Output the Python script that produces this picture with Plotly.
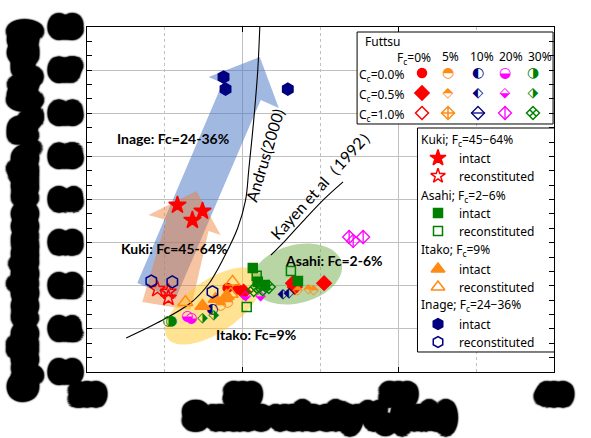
import numpy as np
import plotly.graph_objects as go

# ---------------- data (Vs in m/s, ratio) ----------------
andrus_vs = [125.2, 145.2, 166.5, 178.1, 187.7, 196.8, 201.9, 203.9, 207.1, 209.7, 211.0]
andrus_r = [0.079, 0.114, 0.160, 0.204, 0.264, 0.334, 0.399, 0.468, 0.584, 0.700, 0.800]
kayen_vs = [218.1, 227.7, 240.6, 252.3, 264.5]
kayen_r = [0.271, 0.306, 0.357, 0.401, 0.441]

kuki_int_vs = [158.1, 174.2, 167.7]
kuki_int_r = [0.387, 0.373, 0.352]
kuki_rec_vs = [145.2, 152.3, 152.3]
kuki_rec_r = [0.192, 0.186, 0.172]

asahi_int_vs = [206.5, 209.7, 214.2, 235.5]
asahi_int_r = [0.241, 0.209, 0.202, 0.211]
asahi_rec_vs = [209.0, 231.0, 202.6]
asahi_rec_r = [0.223, 0.234, 0.151]

itako_int_vs = [174.2, 182.6, 189.7]
itako_int_r = [0.153, 0.169, 0.176]
itako_rec_vs = [163.2, 193.5, 192.3]
itako_rec_r = [0.162, 0.209, 0.181]

inage_int_vs = [187.7, 189.0, 229.0]
inage_int_r = [0.684, 0.656, 0.656]
inage_rec_vs = [141.3, 154.8, 180.6]
inage_rec_r = [0.211, 0.209, 0.186]

# Futtsu: fines content Fc / cement content Cc
fc0_cc00_vs = [190.3, 196.8, 200.0]
fc0_cc00_r = [0.195, 0.192, 0.188]
fc0_cc05_vs = [200.6, 232.3, 252.3, 233.5]
fc0_cc05_r = [0.186, 0.206, 0.206, 0.197]
fc5_cc00_vs = [185.8, 190.3]
fc5_cc00_r = [0.155, 0.162]
fc5_cc05_vs = [235.5, 242.6, 245.8]
fc5_cc05_r = [0.190, 0.192, 0.188]
fc10_cc00_vs = [180.6]
fc10_cc00_r = [0.146]
fc10_cc05_vs = [225.8, 229.7]
fc10_cc05_r = [0.179, 0.183]
fc20_cc00_vs = [164.5, 167.1]
fc20_cc00_r = [0.128, 0.125]
fc20_cc05_vs = [201.9, 211.6]
fc20_cc05_r = [0.174, 0.174]
fc20_cc10_vs = [268.4, 271.0, 277.4]
fc20_cc10_r = [0.313, 0.304, 0.313]
fc30_cc00_vs = [152.3, 154.2]
fc30_cc00_r = [0.118, 0.118]
fc30_cc05_vs = [174.2, 181.3]
fc30_cc05_r = [0.123, 0.132]
fc30_cc10_vs = [207.1, 212.9, 216.8]
fc30_cc10_r = [0.190, 0.192, 0.197]

x_ticks = [100, 200, 300, 400]
y_ticks = [0.0, 0.1, 0.2, 0.3, 0.4, 0.5, 0.6, 0.7, 0.8]

# ---------------- styles ----------------
RED, ORANGE, NAVY, MAG, GREEN = '#ff0000', '#ff8a14', '#000080', '#ff00ff', '#008000'
fc_cols = [0, 5, 10, 20, 30]
cc_rows = ['0.0', '0.5', '1.0']
fut_style = {
    (0, '0.0'): ('m', 'circle', RED, 9), (0, '0.5'): ('m', 'diamond', RED, 11), (0, '1.0'): ('m', 'diamond-open', RED, 10),
    (5, '0.0'): ('g', '◓', ORANGE, 14), (5, '0.5'): ('g', '⬘', ORANGE, 14), (5, '1.0'): ('m', 'diamond-cross-open', ORANGE, 10),
    (10, '0.0'): ('g', '◐', NAVY, 14), (10, '0.5'): ('g', '⬖', NAVY, 14), (10, '1.0'): ('mm', ('diamond-open', 'line-ew-open'), NAVY, 10),
    (20, '0.0'): ('g', '◒', MAG, 14), (20, '0.5'): ('g', '⬙', MAG, 14), (20, '1.0'): ('mm', ('diamond-open', 'line-ns-open'), MAG, 10),
    (30, '0.0'): ('g', '◑', GREEN, 14), (30, '0.5'): ('g', '⬗', GREEN, 14), (30, '1.0'): ('m', 'diamond-x-open', GREEN, 10),
}
fut_data = {
    (0, '0.0'): (fc0_cc00_vs, fc0_cc00_r), (0, '0.5'): (fc0_cc05_vs, fc0_cc05_r),
    (5, '0.0'): (fc5_cc00_vs, fc5_cc00_r), (5, '0.5'): (fc5_cc05_vs, fc5_cc05_r),
    (10, '0.0'): (fc10_cc00_vs, fc10_cc00_r), (10, '0.5'): (fc10_cc05_vs, fc10_cc05_r),
    (20, '0.0'): (fc20_cc00_vs, fc20_cc00_r), (20, '0.5'): (fc20_cc05_vs, fc20_cc05_r), (20, '1.0'): (fc20_cc10_vs, fc20_cc10_r),
    (30, '0.0'): (fc30_cc00_vs, fc30_cc00_r), (30, '0.5'): (fc30_cc05_vs, fc30_cc05_r), (30, '1.0'): (fc30_cc10_vs, fc30_cc10_r),
}

fig = go.Figure()


def add_styled(x, y, style, xa='x', ya='y'):
    kind, sym, col, size = style
    common = dict(x=x, y=y, showlegend=False, hoverinfo='skip', cliponaxis=False, xaxis=xa, yaxis=ya)
    if kind == 'g':
        fig.add_trace(go.Scatter(mode='text', text=[sym] * len(x), textposition='middle center',
                                 textfont=dict(family='DejaVu Sans', size=size, color=col), **common))
    elif kind == 'm':
        fig.add_trace(go.Scatter(mode='markers', marker=dict(symbol=sym, size=size, color=col,
                                 line=dict(color=col, width=1.5)), **common))
    else:
        for s in sym:
            fig.add_trace(go.Scatter(mode='markers', marker=dict(symbol=s, size=size, color=col,
                                     line=dict(color=col, width=1.3)), **common))


# curves
fig.add_trace(go.Scatter(x=andrus_vs, y=andrus_r, mode='lines', line=dict(color='black', width=1.1, shape='spline'),
                         showlegend=False, hoverinfo='skip'))
fig.add_trace(go.Scatter(x=kayen_vs, y=kayen_r, mode='lines', line=dict(color='black', width=1.1, shape='spline'),
                         showlegend=False, hoverinfo='skip'))

site_sets = [
    (kuki_int_vs, kuki_int_r, ('m', 'star', RED, 13)),
    (kuki_rec_vs, kuki_rec_r, ('m', 'star-open', RED, 12)),
    (asahi_int_vs, asahi_int_r, ('m', 'square', GREEN, 9)),
    (asahi_rec_vs, asahi_rec_r, ('m', 'square-open', GREEN, 9)),
    (itako_int_vs, itako_int_r, ('m', 'triangle-up', ORANGE, 13)),
    (itako_rec_vs, itako_rec_r, ('m', 'triangle-up-open', ORANGE, 13)),
    (inage_int_vs, inage_int_r, ('m', 'hexagon', NAVY, 12)),
    (inage_rec_vs, inage_rec_r, ('m', 'hexagon-open', NAVY, 12)),
]
for key, (xv, yv) in fut_data.items():
    add_styled(xv, yv, fut_style[key])
for xv, yv, st in site_sets:
    add_styled(xv, yv, st)

# ---------------- decorative shapes (data coords) ----------------
KX, KY = 1.55, 431.25  # px per unit on x / y


def poly(pts):
    return 'M ' + ' L '.join(f'{a},{b}' for a, b in pts) + ' Z'


def ellipse(cx, cy, a, b, deg, n=80):
    th = np.radians(deg)
    t = np.linspace(0, 2 * np.pi, n)
    xs = cx + (a * np.cos(t) * np.cos(th) - b * np.sin(t) * np.sin(th)) / KX
    ys = cy + (a * np.cos(t) * np.sin(th) + b * np.sin(t) * np.cos(th)) / KY
    return poly(zip(xs.round(2), ys.round(4)))


blue_arrow = [(132.3, 0.2064), (187.1, 0.6701), (178.1, 0.6841), (211.0, 0.7304), (223.2, 0.6122), (211.6, 0.6307), (156.8, 0.1693)]
orange_arrow = [(135.5, 0.1623), (151.0, 0.3525), (139.4, 0.3641), (170.3, 0.4197), (185.8, 0.3177), (178.1, 0.3270), (166.5, 0.1438)]
shapes = [
    dict(type='path', path=poly(blue_arrow), fillcolor='rgba(68,114,196,0.5)', line=dict(width=0), layer='between'),
    dict(type='path', path=poly(orange_arrow), fillcolor='rgba(237,125,49,0.45)', line=dict(width=0), layer='between'),
    dict(type='path', path=ellipse(181.3, 0.1530, 56, 26, 35), fillcolor='rgba(255,200,40,0.5)', line=dict(width=0), layer='between'),
    dict(type='path', path=ellipse(234.8, 0.2272, 46, 29, 15), fillcolor='rgba(112,173,71,0.5)', line=dict(width=0), layer='between'),
    # legend boxes
    dict(type='rect', x0=273.5, x1=399.4, y0=0.7884, y1=0.5751, fillcolor='white',
         line=dict(color='black', width=1), layer='between'),
    dict(type='rect', x0=312.3, x1=403.5, y0=0.5658, y1=0.0464, fillcolor='white',
         line=dict(color='black', width=1), layer='between'),
]

# ---------------- legends (pixel overlay axes x2/y2) ----------------
P = dict(xref='x2', yref='y2')
LF = dict(family='Noto Sans', size=12, color='black')
ann = []
ann.append(dict(x=363, y=41, text='Futtsu', xanchor='left', yanchor='middle', showarrow=False, font=LF, **P))
col_x = [422, 448, 478, 505, 533]
row_y = [73, 93, 113]
hdr_x = [427, 450, 482, 511, 540]
for i, fc in enumerate(fc_cols):
    if fc == 0:
        ann.append(dict(x=433, y=58, text=f'F<sub>c</sub>={fc}%', xanchor='right', yanchor='middle', showarrow=False, font=LF, **P))
    else:
        ann.append(dict(x=hdr_x[i], y=56, text=f'{fc}%', xanchor='center', yanchor='middle', showarrow=False, font=LF, **P))
for j, cc in enumerate(cc_rows):
    ann.append(dict(x=357, y=row_y[j] + 2, text=f'C<sub>c</sub>={cc}%', xanchor='left', yanchor='middle', showarrow=False, font=LF, **P))
    for i, fc in enumerate(fc_cols):
        add_styled([col_x[i]], [row_y[j]], fut_style[(fc, cc)], 'x2', 'y2')

groups = [('Kuki; F<sub>c</sub>=45−64%', 140), ('Asahi; F<sub>c</sub>=2−6%', 196),
          ('Itako; F<sub>c</sub>=9%', 250), ('Inage; F<sub>c</sub>=24−36%', 305)]
for t, yy in groups:
    ann.append(dict(x=419, y=yy, text=t, xanchor='left', yanchor='middle', showarrow=False, font=LF, **P))
item_y = [158, 176, 213, 231, 269, 287, 324, 342]
leg_sizes = [12, 11, 9, 9, 12, 12, 11, 11]
for k, (xv, yv, st) in enumerate(site_sets):
    add_styled([438], [item_y[k]], (st[0], st[1], st[2], leg_sizes[k]), 'x2', 'y2')
    ann.append(dict(x=457, y=item_y[k], text='intact' if k % 2 == 0 else 'reconstituted', xanchor='left',
                    yanchor='middle', showarrow=False, font=LF, **P))

# region labels
BF = dict(family='Lato', size=14, color='black', weight='bold')
ann += [
    dict(x=173, y=138, text='Inage: Fc=24-36%', showarrow=False, font=BF, **P),
    dict(x=174, y=248, text='Kuki: Fc=45-64%', showarrow=False, font=BF, **P),
    dict(x=334, y=260, text='Asahi: Fc=2-6%', showarrow=False, font=BF, **P),
    dict(x=256, y=334, text='Itako: Fc=9%', showarrow=False, font=BF, **P),
    dict(x=264, y=155, text='Andrus(2000)', textangle=-73, showarrow=False,
         font=dict(family='Lato', size=16, color='black'), **P),
    dict(x=322, y=182, text='Kayen et al（1992）', textangle=-48, showarrow=False,
         font=dict(family='Lato', size=16, color='black'), **P),
]


# blob-like heavy axis text
def blob(rs=(1.5, 3.0, 4.5, 6.0, 7.5), n=24):
    parts = []
    for r in rs:
        for k in range(n):
            a = 2 * np.pi * k / n
            parts.append(f'{r * np.cos(a):.1f}px {r * np.sin(a):.1f}px 1.5px #000')
    return ', '.join(parts)


SH = blob()
AF = dict(family='Liberation Sans', size=23, color='black', weight='bold', shadow=SH)
ann.append(dict(xref='paper', yref='paper', x=0.4989, y=-0.1333, text='S-wave velocity V<sub>s</sub> (m/s)',
                showarrow=False, xanchor='center', yanchor='middle', font=AF))
ann.append(dict(xref='paper', yref='paper', x=-0.132, y=0.4696, textangle=-90,
                text='Cyclic resistance ratio, R<sub>L</sub> (N<sub>c</sub>=20)',
                showarrow=False, xanchor='center', yanchor='middle', font=AF))

TF = dict(family='Liberation Sans', size=16, color='black', weight='bold', shadow=SH)
GRID = '#c0c0c0'
fig.update_layout(
    width=591, height=438, margin=dict(l=87, r=37, t=27, b=66),
    paper_bgcolor='white', plot_bgcolor='white', showlegend=False,
    shapes=shapes, annotations=ann,
    xaxis=dict(range=[100, 400], tickvals=x_ticks, ticktext=[str(v) for v in x_ticks], ticks='inside', ticklen=5,
               tickcolor='black', showline=True, linecolor='black', linewidth=1.2, mirror='ticks',
               showgrid=True, gridcolor=GRID, gridwidth=1, zeroline=False, tickfont=TF, ticklabelstandoff=8,
               minor=dict(dtick=50, tick0=100, showgrid=True, gridcolor=GRID, griddash='dot', ticks='')),
    yaxis=dict(range=[0, 0.8], tickvals=y_ticks, ticktext=[f'{v:.1f}' for v in y_ticks], ticks='inside', ticklen=5,
               tickcolor='black', showline=True, linecolor='black', linewidth=1.2, mirror='ticks',
               showgrid=True, gridcolor=GRID, gridwidth=1, zeroline=False, tickfont=TF, ticklabelstandoff=6,
               minor=dict(dtick=0.1 / 3, tick0=0, ticks='inside', ticklen=5, tickcolor='black', showgrid=False)),
    xaxis2=dict(overlaying='x', range=[87, 554], visible=False, fixedrange=True),
    yaxis2=dict(overlaying='y', range=[372, 27], visible=False, fixedrange=True),
)

fig.write_html('out.html')
